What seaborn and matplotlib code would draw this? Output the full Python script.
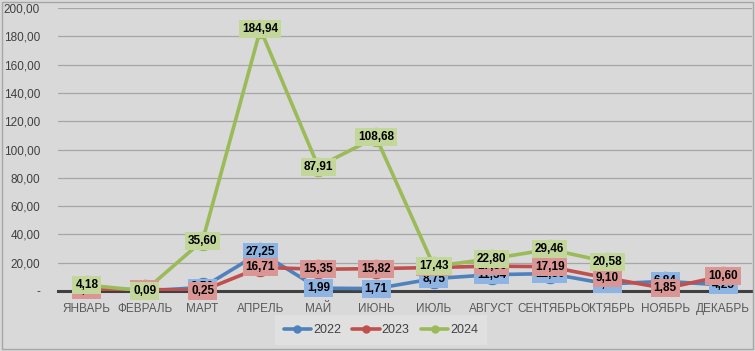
import matplotlib
matplotlib.use("Agg")
import matplotlib.pyplot as plt
from matplotlib.lines import Line2D
from matplotlib.patches import Rectangle
from matplotlib.ticker import FuncFormatter, MultipleLocator
import seaborn as sns
import pandas as pd
import numpy as np

months = ["ЯНВАРЬ", "ФЕВРАЛЬ", "МАРТ", "АПРЕЛЬ", "МАЙ", "ИЮНЬ", "ИЮЛЬ",
          "АВГУСТ", "СЕНТЯБРЬ", "ОКТЯБРЬ", "НОЯБРЬ", "ДЕКАБРЬ"]
years = ["2022", "2023", "2024"]
v2022 = [0.40, 0.10, 2.50, 27.25, 1.99, 1.71, 8.75, 11.54, 12.30, 5.00, 6.84, 4.25]
v2023 = [0.60, 1.20, 0.25, 16.71, 15.35, 15.82, 16.60, 17.56, 17.19, 9.10, 1.85, 10.60]
v2024 = [4.18, 0.09, 35.60, 184.94, 87.91, 108.68, 17.43, 22.80, 29.46, 20.58, np.nan, np.nan]

line_colors = ["#4F81BD", "#C0504D", "#9BBB59"]
box_colors = ["#8DB4E2", "#DA9694", "#C4D79B"]

rows = []
for yr, vals in zip(years, [v2022, v2023, v2024]):
    for i, (m, v) in enumerate(zip(months, vals)):
        rows.append({"idx": i, "month": m, "year": yr, "value": v})
df = pd.DataFrame(rows)

sns.set_theme(style="white")
plt.rcParams["font.family"] = ["Liberation Sans", "DejaVu Sans"]

BG = "#D9D9D9"
fig = plt.figure(figsize=(7.55, 3.51), dpi=100, facecolor=BG)
ax = fig.add_axes([58 / 755, 1 - 291 / 351, (752 - 58) / 755, (291 - 8) / 351])
ax.set_facecolor(BG)

for k, yr in enumerate(years):
    sub = df[df["year"] == yr].dropna()
    sns.lineplot(data=sub, x="idx", y="value", ax=ax, color=line_colors[k],
                 linewidth=2.6, marker="o", markersize=14,
                 markeredgewidth=0, legend=False, zorder=3 + k)

for k, yr in enumerate(years):
    sub = df[df["year"] == yr].dropna()
    for _, r in sub.iterrows():
        ax.text(r["idx"], r["value"], f"{r['value']:.2f}".replace(".", ","),
                ha="center", va="center", fontsize=8.5, fontweight="bold",
                color="black", zorder=10 + k,
                bbox=dict(boxstyle="square,pad=0.25", fc=box_colors[k], ec="none"))

ax.set_xlim(-0.5, len(months) - 0.5)
ax.set_ylim(0, 200)
ax.yaxis.set_major_locator(MultipleLocator(20))
ax.yaxis.set_major_formatter(FuncFormatter(
    lambda v, p: "-" if abs(v) < 1e-9 else f"{v:.2f}".replace(".", ",")))
ax.set_xticks(range(len(months)))
ax.set_xticklabels(months)
ax.tick_params(axis="x", length=0, pad=8.5, labelsize=8.5, labelcolor="#595959")
ax.tick_params(axis="y", length=0, pad=13, labelsize=8.5, labelcolor="#404040")
ax.set_xlabel("")
ax.set_ylabel("")
ax.grid(axis="y", color="#A6A6A6", linewidth=0.9)
ax.set_axisbelow(True)
for s in ["top", "right", "left"]:
    ax.spines[s].set_visible(False)
ax.spines["bottom"].set_color("#404040")
ax.spines["bottom"].set_linewidth(2.2)
ax.spines["bottom"].set_zorder(2.5)

handles = [Line2D([0], [0], color=c, lw=2.6, marker="o", markersize=5)
           for c in line_colors]
leg = fig.legend(handles, years, loc="center", bbox_to_anchor=(381 / 755, 1 - 330 / 351),
                 ncol=3, frameon=True, fontsize=9, handlelength=2.2,
                 columnspacing=0.9, handletextpad=0.15, borderpad=0.4)
leg.get_frame().set_facecolor("#E2E2E2")
leg.get_frame().set_edgecolor("none")
leg.get_frame().set_boxstyle("square")
for t in leg.get_texts():
    t.set_color("#404040")

fig.patches.append(Rectangle((2 / 755, 2 / 351), 751 / 755, 347 / 351,
                             transform=fig.transFigure, fill=False,
                             edgecolor="#A6A6A6", linewidth=1))

fig.savefig("out.png", dpi=100, facecolor=BG)
